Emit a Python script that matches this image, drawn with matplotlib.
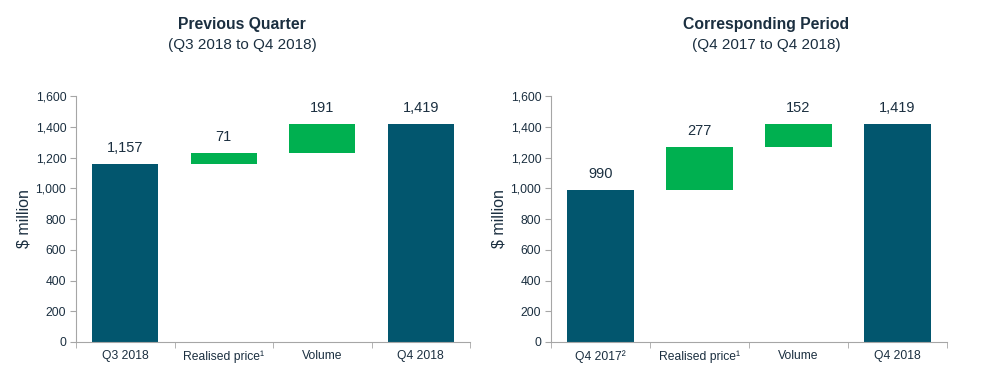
import matplotlib.pyplot as plt
import numpy as np

plt.rcParams['font.family'] = ['Liberation Sans', 'DejaVu Sans']

categories_left = ["Q3 2018", "Realised price¹", "Volume", "Q4 2018"]
start_left = 1157
deltas_left = [71, 191]
end_left = 1419

categories_right = ["Q4 2017²", "Realised price¹", "Volume", "Q4 2018"]
start_right = 990
deltas_right = [277, 152]
end_right = 1419

titles = ["Previous Quarter", "Corresponding Period"]
subtitles = ["(Q3 2018 to Q4 2018)", "(Q4 2017 to Q4 2018)"]
yticks = [0, 200, 400, 600, 800, 1000, 1200, 1400, 1600]

dark = "#02566e"
green = "#00b050"
txt = "#1b2f40"
spine = "#a6a6a6"

fig = plt.figure(figsize=(9.92, 3.9), dpi=100)
axL = fig.add_axes([76/992, 1-342/390, 394/992, 246/390])
axR = fig.add_axes([551/992, 1-342/390, 396/992, 246/390])

def draw(ax, cats, start, deltas, end):
    x = np.arange(len(cats))
    w = 0.67
    ax.bar(x[0], start, width=w, color=dark, zorder=2)
    ax.text(x[0], start + 60, f"{start:,}", ha="center", va="bottom", fontsize=10.5, color=txt)
    base = start
    for i, d in enumerate(deltas):
        ax.bar(x[i+1], d, bottom=base, width=w, color=green, zorder=2)
        ax.text(x[i+1], base + d + 60, f"{d:,}", ha="center", va="bottom", fontsize=10.5, color=txt)
        base += d
    ax.bar(x[-1], end, width=w, color=dark, zorder=2)
    ax.text(x[-1], end + 60, f"{end:,}", ha="center", va="bottom", fontsize=10.5, color=txt)
    ax.set_xlim(-0.5, len(cats) - 0.5)
    ax.set_ylim(0, 1600)
    ax.set_yticks(yticks)
    ax.set_yticklabels([f"{v:,}" for v in yticks], fontsize=8.7, color=txt)
    ax.set_xticks(x)
    ax.set_xticklabels(cats, fontsize=8.7, color=txt)
    ax.tick_params(axis="x", length=0, pad=6)
    ax.set_xticks(np.arange(-0.5, len(cats)), minor=True)
    ax.tick_params(axis="x", which="minor", length=4, color=spine, direction="out")
    ax.tick_params(axis="y", length=4, color=spine, pad=3)
    for s in ["top", "right"]:
        ax.spines[s].set_visible(False)
    for s in ["left", "bottom"]:
        ax.spines[s].set_color(spine)
    ax.set_ylabel("$ million", fontsize=11.5, color=txt)
    ax.yaxis.set_label_coords(-0.112, 0.5)

draw(axL, categories_left, start_left, deltas_left, end_left)
draw(axR, categories_right, start_right, deltas_right, end_right)

for cx, t, st in [(242/992, titles[0], subtitles[0]), (766/992, titles[1], subtitles[1])]:
    fig.text(cx, 1-24/390, t, ha="center", va="center", fontsize=11.3, fontweight="bold", color=txt)
    fig.text(cx, 1-45/390, st, ha="center", va="center", fontsize=11, color=txt)

fig.savefig("out.png", dpi=100, facecolor="white")
